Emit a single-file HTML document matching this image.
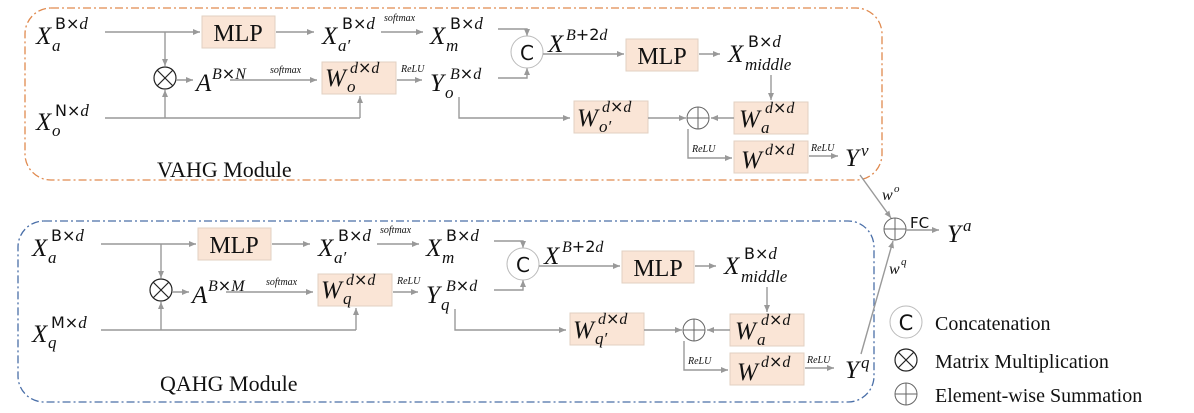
<!DOCTYPE html>
<html><head><meta charset="utf-8"><style>
html,body{margin:0;padding:0;background:#fff;}
svg{display:block;}
.m{font-family:"Liberation Serif",serif;font-style:italic;fill:#111;}
.u{font-family:"DejaVu Sans",sans-serif;fill:#111;}
.r{font-family:"Liberation Serif",serif;fill:#111;}
.ln{stroke:#999;stroke-width:1.4;fill:none;}
.bx{fill:#fae5d6;stroke:#e2d0c2;stroke-width:1;}
</style></head><body>
<svg width="1194" height="413" viewBox="0 0 1194 413" xmlns="http://www.w3.org/2000/svg">
<defs>
<marker id="a" markerWidth="8" markerHeight="8" refX="7" refY="4" orient="auto" markerUnits="userSpaceOnUse"><path d="M0,1 L7,4 L0,7 z" fill="#999"/></marker>
<g id="mod">
  <!-- row 1 -->
  <line class="ln" x1="105" y1="32" x2="200" y2="32" marker-end="url(#a)"/>
  <rect class="bx" x="202" y="16" width="73" height="32"/>
  <text class="r" x="238" y="41" font-size="24" text-anchor="middle">MLP</text>
  <line class="ln" x1="276" y1="32" x2="314" y2="32" marker-end="url(#a)"/>
  <text class="r" x="384" y="21" font-size="10" font-style="italic">softmax</text>
  <line class="ln" x1="381" y1="32" x2="423" y2="32" marker-end="url(#a)"/>
  <!-- x mult -->
  <line class="ln" x1="165" y1="32" x2="165" y2="66" marker-end="url(#a)"/>
  <circle cx="165" cy="78" r="11" fill="none" stroke="#222" stroke-width="1.2"/>
  <line x1="157" y1="70" x2="173" y2="86" stroke="#222" stroke-width="1.2"/>
  <line x1="173" y1="70" x2="157" y2="86" stroke="#222" stroke-width="1.2"/>
  <line class="ln" x1="176" y1="80" x2="193" y2="80" marker-end="url(#a)"/>
  <text class="r" x="270" y="73" font-size="10" font-style="italic">softmax</text>
  <line class="ln" x1="230" y1="80" x2="317" y2="80" marker-end="url(#a)"/>
  <rect class="bx" x="322" y="62" width="74" height="32"/>
  <text class="m" x="401" y="72" font-size="10">ReLU</text>
  <line class="ln" x1="397" y1="80" x2="422" y2="80" marker-end="url(#a)"/>
  <line class="ln" x1="105" y1="118" x2="360" y2="118"/>
  <line class="ln" x1="165" y1="118" x2="165" y2="90" marker-end="url(#a)"/>
  <line class="ln" x1="360" y1="118" x2="360" y2="96" marker-end="url(#a)"/>
  <!-- concat -->
  <polyline class="ln" points="498,29 527,29 527,36" marker-end="url(#a)"/>
  <polyline class="ln" points="498,78 527,78 527,68" marker-end="url(#a)"/>
  <circle cx="527" cy="52" r="16" fill="#fff" stroke="#bbb" stroke-width="1"/>
  <text class="u" x="527" y="60" font-size="20" text-anchor="middle">C</text>
  <line class="ln" x1="543" y1="54" x2="624" y2="54" marker-end="url(#a)"/>
  <rect class="bx" x="626" y="39" width="72" height="32"/>
  <text class="r" x="662" y="64" font-size="24" text-anchor="middle">MLP</text>
  <line class="ln" x1="699" y1="54" x2="720" y2="54" marker-end="url(#a)"/>
  <line class="ln" x1="771" y1="75" x2="771" y2="100" marker-end="url(#a)"/>
  <rect class="bx" x="734" y="102" width="74" height="32"/>
  <line class="ln" x1="734" y1="118" x2="711" y2="118" marker-end="url(#a)"/>
  <circle cx="698" cy="118" r="11" fill="none" stroke="#666" stroke-width="1"/>
  <line x1="687" y1="118" x2="709" y2="118" stroke="#666"/>
  <line x1="698" y1="107" x2="698" y2="129" stroke="#666"/>
  <rect class="bx" x="574" y="101" width="74" height="32"/>
  <line class="ln" x1="648" y1="118" x2="686" y2="118" marker-end="url(#a)"/>
  <polyline class="ln" points="459,97 459,118 570,118" marker-end="url(#a)"/>
  <polyline class="ln" points="688,129 688,158 732,158" marker-end="url(#a)"/>
  <text class="m" x="692" y="152" font-size="10">ReLU</text>
  <rect class="bx" x="734" y="141" width="74" height="32"/>
  <text class="m" x="811" y="151" font-size="10">ReLU</text>
  <line class="ln" x1="809" y1="156" x2="838" y2="156" marker-end="url(#a)"/>
  <!-- common labels -->
  <text class="m" x="36" y="44" font-size="25">X</text><text class="m" x="52" y="51" font-size="17">a</text><text class="u" x="55" y="29" font-size="16">B×<tspan class="m" font-size="17">d</tspan></text>
  <text class="m" x="322" y="44" font-size="25">X</text><text class="m" x="338" y="51" font-size="17">a′</text><text class="u" x="342" y="29" font-size="16">B×<tspan class="m" font-size="17">d</tspan></text>
  <text class="m" x="430" y="44" font-size="25">X</text><text class="m" x="446" y="51" font-size="17">m</text><text class="u" x="450" y="29" font-size="16">B×<tspan class="m" font-size="17">d</tspan></text>
  <text class="m" x="548" y="52" font-size="25">X</text><text class="u" x="566" y="40" font-size="16"><tspan class="m">B</tspan>+2<tspan class="m">d</tspan></text>
  <text class="m" x="728" y="62" font-size="25">X</text><text class="m" x="745" y="70" font-size="17">middle</text><text class="u" x="748" y="47" font-size="16">B×<tspan class="m" font-size="17">d</tspan></text>
  <text class="m" x="739" y="127" font-size="25">W</text><text class="m" x="761" y="133" font-size="17">a</text><text class="u" x="765" y="113" font-size="16"><tspan class="m">d</tspan>×<tspan class="m">d</tspan></text>
  <text class="m" x="741" y="168" font-size="25">W</text><text class="u" x="765" y="155" font-size="16"><tspan class="m">d</tspan>×<tspan class="m">d</tspan></text>
</g>
</defs>

<!-- VAHG -->
<rect x="25" y="8" width="857" height="172" rx="26" fill="none" stroke="#e08a4f" stroke-width="1.3" stroke-dasharray="8,3,2,3"/>
<use href="#mod"/>
<text class="m" x="196" y="91" font-size="25">A</text><text class="u" x="212" y="79" font-size="16"><tspan class="m">B</tspan>×<tspan class="m">N</tspan></text>
<text class="m" x="36" y="130" font-size="25">X</text><text class="m" x="52" y="136" font-size="17">o</text><text class="u" x="55" y="116" font-size="16">N×<tspan class="m" font-size="17">d</tspan></text>
<text class="m" x="325" y="86" font-size="25">W</text><text class="m" x="347" y="92" font-size="17">o</text><text class="u" x="350" y="73" font-size="16"><tspan class="m">d</tspan>×<tspan class="m">d</tspan></text>
<text class="m" x="430" y="91" font-size="25">Y</text><text class="m" x="445" y="98" font-size="17">o</text><text class="u" x="450" y="79" font-size="16"><tspan class="m">B</tspan>×<tspan class="m">d</tspan></text>
<text class="m" x="577" y="126" font-size="25">W</text><text class="m" x="599" y="132" font-size="17">o′</text><text class="u" x="602" y="112" font-size="16"><tspan class="m">d</tspan>×<tspan class="m">d</tspan></text>
<text class="m" x="845" y="166" font-size="25">Y</text><text class="m" x="861" y="156" font-size="17">v</text>
<text class="r" x="157" y="177" font-size="22">VAHG Module</text>

<!-- QAHG -->
<rect x="18" y="221" width="856" height="181" rx="26" fill="none" stroke="#4a6fa8" stroke-width="1.3" stroke-dasharray="8,3,2,3"/>
<g transform="translate(-4,212)">
<use href="#mod"/>
<text class="m" x="196" y="91" font-size="25">A</text><text class="u" x="212" y="79" font-size="16"><tspan class="m">B</tspan>×<tspan class="m">M</tspan></text>
<text class="m" x="36" y="130" font-size="25">X</text><text class="m" x="52" y="136" font-size="17">q</text><text class="u" x="55" y="116" font-size="16">M×<tspan class="m" font-size="17">d</tspan></text>
<text class="m" x="325" y="86" font-size="25">W</text><text class="m" x="347" y="92" font-size="17">q</text><text class="u" x="350" y="73" font-size="16"><tspan class="m">d</tspan>×<tspan class="m">d</tspan></text>
<text class="m" x="430" y="91" font-size="25">Y</text><text class="m" x="445" y="98" font-size="17">q</text><text class="u" x="450" y="79" font-size="16"><tspan class="m">B</tspan>×<tspan class="m">d</tspan></text>
<text class="m" x="577" y="126" font-size="25">W</text><text class="m" x="599" y="132" font-size="17">q′</text><text class="u" x="602" y="112" font-size="16"><tspan class="m">d</tspan>×<tspan class="m">d</tspan></text>
<text class="m" x="849" y="166" font-size="25">Y</text><text class="m" x="865" y="156" font-size="17">q</text>
<text class="r" x="164" y="179" font-size="22">QAHG Module</text>
</g>

<!-- fusion -->
<line class="ln" x1="860" y1="175" x2="891" y2="218" marker-end="url(#a)"/>
<line class="ln" x1="861" y1="354" x2="893" y2="241" marker-end="url(#a)"/>
<circle cx="895" cy="229" r="11" fill="none" stroke="#666" stroke-width="1"/>
<line x1="884" y1="229" x2="906" y2="229" stroke="#666"/>
<line x1="895" y1="218" x2="895" y2="240" stroke="#666"/>
<text class="m" x="882" y="200" font-size="16">w</text><text class="m" x="894" y="192" font-size="11">o</text>
<text class="m" x="889" y="274" font-size="16">w</text><text class="m" x="901" y="265" font-size="11">q</text>
<text class="u" x="910" y="228" font-size="15">FC</text>
<line class="ln" x1="906" y1="230" x2="939" y2="230" marker-end="url(#a)"/>
<text class="m" x="947" y="242" font-size="25">Y</text><text class="m" x="963" y="231" font-size="17">a</text>

<!-- legend -->
<circle cx="906" cy="322" r="16" fill="#fff" stroke="#bbb"/>
<text class="u" x="906" y="330" font-size="21" text-anchor="middle">C</text>
<text class="r" x="935" y="330" font-size="20">Concatenation</text>
<circle cx="906" cy="360" r="11" fill="none" stroke="#222" stroke-width="1.2"/>
<line x1="898" y1="352" x2="914" y2="368" stroke="#222" stroke-width="1.2"/>
<line x1="914" y1="352" x2="898" y2="368" stroke="#222" stroke-width="1.2"/>
<text class="r" x="935" y="368" font-size="20">Matrix Multiplication</text>
<circle cx="906" cy="394" r="11" fill="none" stroke="#666"/>
<line x1="895" y1="394" x2="917" y2="394" stroke="#666"/>
<line x1="906" y1="383" x2="906" y2="405" stroke="#666"/>
<text class="r" x="935" y="402" font-size="20">Element-wise Summation</text>
</svg>
</body></html>
